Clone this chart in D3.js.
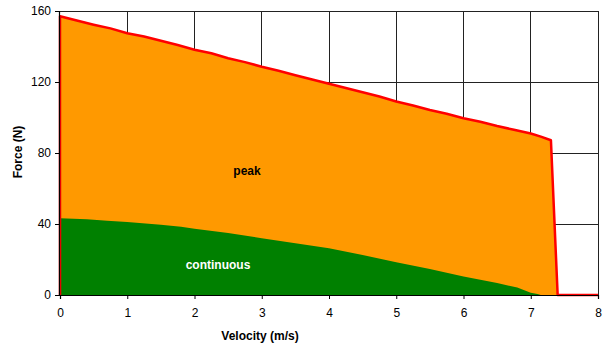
<!DOCTYPE html>
<html>
<head>
<meta charset="utf-8">
<script src="https://cdn.jsdelivr.net/npm/d3@7"></script>
<style>
  html, body { margin: 0; padding: 0; background: #fff; }
  svg { display: block; font-family: "Liberation Sans", Arial, sans-serif; }
</style>
</head>
<body>
<svg id="chart" width="603" height="351"></svg>
<script>
// Peak force envelope (N) against velocity (m/s)
const peakVelocity = [0, 0, 0.25, 0.5, 0.75, 1, 1.25, 1.5, 1.75, 2, 2.25, 2.5, 2.75, 3, 3.25, 3.5, 3.75, 4, 4.25, 4.5, 4.75, 5, 5.25, 5.5, 5.75, 6, 6.25, 6.5, 6.75, 7, 7.15, 7.3, 7.4, 8];
const peakForce    = [0, 157, 154.6, 152.3, 150.2, 147.5, 145.6, 143.2, 140.8, 138.2, 136.2, 133.4, 131.2, 128.6, 126.3, 123.8, 121.4, 119, 116.6, 114.2, 111.8, 109, 106.8, 104.2, 102.1, 99.6, 97.6, 95.2, 93.1, 91, 89.2, 87.2, 0, 0];

// Continuous force envelope (N) against velocity (m/s)
const contVelocity = [0, 0.4, 0.7, 1, 1.5, 1.8, 2, 2.5, 3, 3.5, 4, 4.5, 5, 5.5, 6, 6.5, 6.8, 7, 7.1, 7.15, 8];
const contForce    = [43.2, 42.7, 41.8, 41.1, 39.6, 38.4, 37.3, 34.9, 32, 29.2, 26.4, 22.6, 18.5, 14.6, 10.4, 6.7, 4.2, 1.3, 0.5, 0, 0];

const xTicks = [0, 1, 2, 3, 4, 5, 6, 7, 8];
const yTicks = [0, 40, 80, 120, 160];

const svg = d3.select("#chart");
const x = d3.scaleLinear().domain([0, 8]).range([60, 598]);
const y = d3.scaleLinear().domain([0, 160]).range([295, 11]);

const peak = peakVelocity.map((v, i) => ({ v, f: peakForce[i] }));
const cont = contVelocity.map((v, i) => ({ v, f: contForce[i] }));

// grid
const grid = svg.append("g").attr("stroke", "#222").attr("stroke-width", 1).attr("shape-rendering", "crispEdges");
grid.selectAll(".gx").data(xTicks.filter(d => d > 0)).join("line")
  .attr("x1", d => x(d)).attr("x2", d => x(d)).attr("y1", y(160)).attr("y2", y(0));
grid.selectAll(".gy").data(yTicks.filter(d => d > 0)).join("line")
  .attr("x1", x(0)).attr("x2", x(8)).attr("y1", d => y(d)).attr("y2", d => y(d));

// peak area
svg.append("path").datum(peak)
  .attr("fill", "#ff9900")
  .attr("d", d3.area().x(d => x(d.v)).y0(y(0)).y1(d => y(d.f)));

// continuous area
svg.append("path").datum(cont)
  .attr("fill", "#008000")
  .attr("d", d3.area().x(d => x(d.v)).y0(y(0)).y1(d => y(d.f)));

// peak outline
svg.append("path").datum(peak)
  .attr("fill", "none")
  .attr("stroke", "#ff0000")
  .attr("stroke-width", 2.5)
  .attr("stroke-linejoin", "round")
  .attr("d", d3.line().x(d => x(d.v)).y(d => y(d.f)));

// axes
const xAxis = svg.append("g").attr("transform", `translate(0,${y(0)})`)
  .call(d3.axisBottom(x).tickValues(xTicks).tickFormat(d3.format("d")).tickSizeOuter(0).tickSize(4).tickPadding(9));
const yAxis = svg.append("g").attr("transform", `translate(${x(0) - 1},0)`)
  .call(d3.axisLeft(y).tickValues(yTicks).tickFormat(d3.format("d")).tickSizeOuter(0).tickSize(4).tickPadding(4));

[xAxis, yAxis].forEach(a => {
  a.select(".domain").attr("stroke", "#000").attr("stroke-width", 1.2);
  a.selectAll(".tick line").attr("stroke", "#000");
  a.selectAll(".tick text").attr("fill", "#000").attr("font-size", 12)
    .attr("font-family", "'Liberation Sans', Arial, sans-serif");
});

// labels
svg.append("text").attr("x", 260).attr("y", 340).attr("text-anchor", "middle")
  .attr("font-size", 12).attr("font-weight", "bold").text("Velocity (m/s)");
svg.append("text").attr("transform", "translate(22,152) rotate(-90)").attr("text-anchor", "middle")
  .attr("font-size", 12).attr("font-weight", "bold").text("Force (N)");
svg.append("text").attr("x", 247).attr("y", 175).attr("text-anchor", "middle")
  .attr("font-size", 12).attr("font-weight", "bold").attr("fill", "#000").text("peak");
svg.append("text").attr("x", 218).attr("y", 269).attr("text-anchor", "middle")
  .attr("font-size", 12).attr("font-weight", "bold").attr("fill", "#fff").text("continuous");
</script>
</body>
</html>
